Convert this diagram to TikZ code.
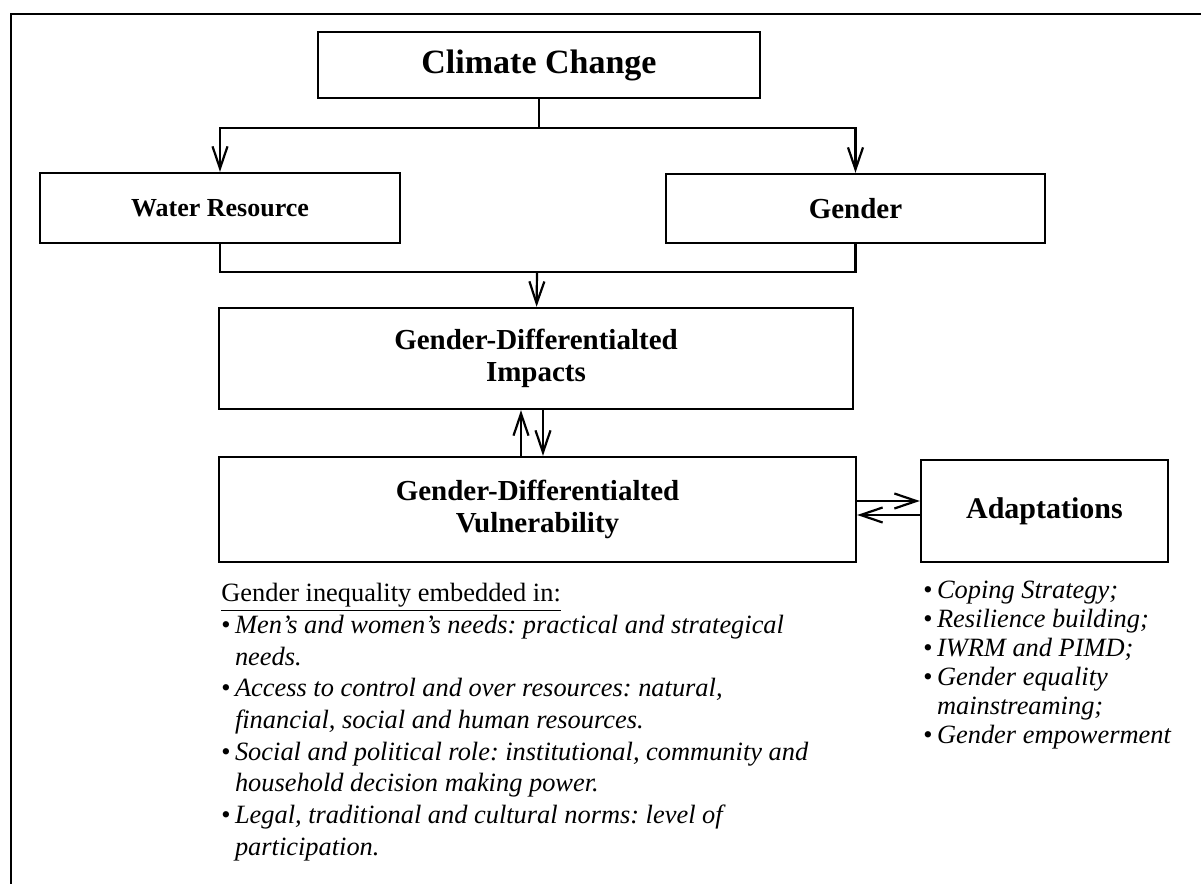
\documentclass[tikz,border=0pt]{standalone}
\usepackage{fontspec}
\setmainfont{Liberation Serif}
\usetikzlibrary{arrows.meta}
\frenchspacing

\begin{document}
\begin{tikzpicture}
[x=0.5pt,y=-0.5pt,
 box/.style={draw,line width=1.2pt,align=center,inner sep=0pt,font=\bfseries\fontsize{14.5}{16}\selectfont},
 link/.style={line width=1.1pt},
 arr/.style={line width=1.1pt,-{Straight Barb[length=11pt,width=7.5pt]}},
 listtext/.style={align=left,inner sep=0pt,anchor=north west}]
\clip (0,0) rectangle (1201,884);
\draw[line width=1.4pt] (11,14) rectangle (1240,920);
% boxes
\node[box,minimum width=221pt,minimum height=33pt,font=\bfseries\fontsize{17}{19}\selectfont] (climate) at (539,65) {Climate Change};
\node[box,minimum width=180pt,minimum height=35pt,font=\bfseries\fontsize{13}{15}\selectfont] (water) at (220,208) {Water Resource};
\node[box,minimum width=189.5pt,minimum height=34.5pt] (gender) at (855.5,208.5) {Gender};
\node[box,minimum width=317pt,minimum height=50.5pt] (impacts) at (536,358.5) {Gender-Differentialted\\Impacts};
\node[box,minimum width=318.5pt,minimum height=52.5pt] (vuln) at (537.5,509.5) {Gender-Differentialted\\Vulnerability};
\node[box,minimum width=123.5pt,minimum height=51pt,font=\bfseries\fontsize{15}{17}\selectfont] (adapt) at (1044.5,511) {Adaptations};
% connectors
\coordinate (split) at (539,128);
\coordinate (merge) at (537,272);
\draw[link] (climate) -- (split);
\draw[arr] (split) -| (water);
\draw[arr] (split) -| (gender);
\draw[link] (water) |- (merge) -| (gender);
\draw[arr] (merge) -- (impacts);
\draw[arr] ([xshift=-7.5pt]impacts.south |- vuln.north) -- ([xshift=-7.5pt]impacts.south);
\draw[arr] ([xshift=3.5pt]impacts.south) -- ([xshift=3.5pt]impacts.south |- vuln.north);
\draw[arr] ([yshift=4.25pt]vuln.east) -- ([yshift=4.25pt]vuln.east -| adapt.west);
\draw[arr] ([yshift=-2.75pt]vuln.east -| adapt.west) -- ([yshift=-2.75pt]vuln.east);
% lists
\node[listtext,font=\fontsize{13.2}{15.85}\selectfont] (inequality) at (221,583)
 {\underline{Gender inequality embedded in:}\\
  \textbullet\,\textit{Men’s and women’s needs: practical and strategical}\\
  \hphantom{\textbullet\,}\textit{needs.}\\
  \textbullet\,\textit{Access to control and over resources: natural,}\\
  \hphantom{\textbullet\,}\textit{financial, social and human resources.}\\
  \textbullet\,\textit{Social and political role: institutional, community and}\\
  \hphantom{\textbullet\,}\textit{household decision making power.}\\
  \textbullet\,\textit{Legal, traditional and cultural norms: level of}\\
  \hphantom{\textbullet\,}\textit{participation.}};
\node[listtext,font=\fontsize{13.2}{14.5}\selectfont] (measures) at (923,581)
 {\textbullet\,\textit{Coping Strategy;}\\
  \textbullet\,\textit{Resilience building;}\\
  \textbullet\,\textit{IWRM and PIMD;}\\
  \textbullet\,\textit{Gender equality}\\
  \hphantom{\textbullet\,}\textit{mainstreaming;}\\
  \textbullet\,\textit{Gender empowerment}};
\end{tikzpicture}
\end{document}
